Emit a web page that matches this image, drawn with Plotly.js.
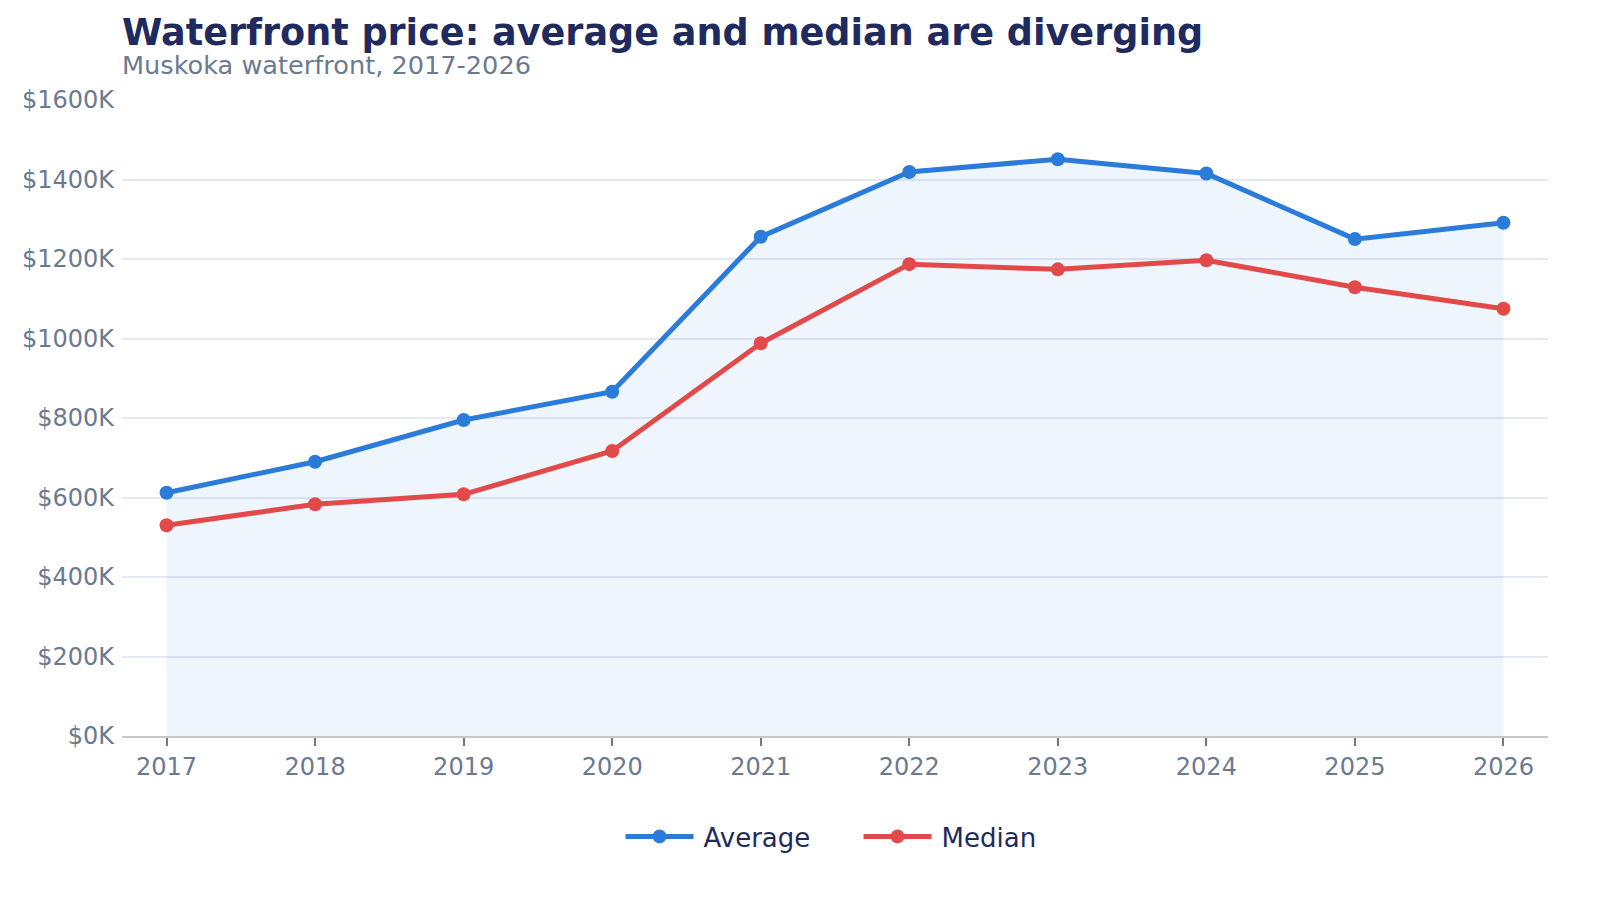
<!DOCTYPE html>
<html>
<head>
<meta charset="utf-8">
<script src="https://cdn.plot.ly/plotly-3.0.1.min.js"></script>
<style>
  html, body { margin: 0; padding: 0; background: #fff; width: 1600px; height: 900px; }
  /* chart is laid out at 800x450 and shown at 2x */
  #chart { width: 800px; height: 450px; transform: scale(2); transform-origin: 0 0; }
</style>
</head>
<body>
<div id="chart"></div>
<script>
// years and prices in $K
const years = [2017, 2018, 2019, 2020, 2021, 2022, 2023, 2024, 2025, 2026];
const averagePrice = [612, 690, 795, 866, 1256, 1419, 1451, 1415, 1250, 1291];
const medianPrice = [530, 583, 608, 717, 988, 1187, 1174, 1197, 1129, 1075];
const yTicks = [0, 200, 400, 600, 800, 1000, 1200, 1400, 1600];

function drawChart() {

    // shaded area under the average, kept out of the legend
    let averageArea = {
        x: years,
        y: averagePrice,
        type: 'scatter',
        mode: 'none',
        fill: 'tozeroy',
        fillcolor: 'rgba(43,123,218,0.08)',
        showlegend: false
    };

    let average = {
        x: years,
        y: averagePrice,
        name: 'Average',
        type: 'scatter',
        mode: 'lines+markers',
        line: { color: '#2b7bda', width: 2.5 },
        marker: { color: '#2b7bda', size: 7 }
    };

    let median = {
        x: years,
        y: medianPrice,
        name: 'Median',
        type: 'scatter',
        mode: 'lines+markers',
        line: { color: '#e24a4a', width: 2.5 },
        marker: { color: '#e24a4a', size: 7 }
    };

    let layout = {
        width: 800,
        height: 450,
        margin: { l: 61, r: 26, t: 49.5, b: 81.5 },
        paper_bgcolor: '#ffffff',
        plot_bgcolor: '#ffffff',
        font: { family: 'DejaVu Sans, sans-serif', color: '#6b7a90' },
        hovermode: false,
        title: {
            text: '<b>Waterfront price: average and median are diverging</b>',
            font: { size: 18.3, color: '#1f2a5e' },
            x: 0, xref: 'paper', xanchor: 'left',
            y: 0.964, yref: 'container', yanchor: 'middle'
        },
        annotations: [{
            text: 'Muskoka waterfront, 2017-2026',
            xref: 'paper', yref: 'paper',
            x: 0, y: 1.055, xanchor: 'left', yanchor: 'middle',
            xshift: -2,
            showarrow: false,
            font: { size: 12.8, color: '#6b7a90' }
        }],
        xaxis: {
            range: [2016.7, 2026.3],
            tickvals: years,
            ticktext: years.map(String),
            showgrid: false,
            zeroline: false,
            showline: true,
            linecolor: '#c8c8c8',
            linewidth: 1,
            ticks: 'outside',
            ticklen: 4,
            tickcolor: '#6b7a90',
            tickfont: { size: 12, color: '#6b7a90' }
        },
        yaxis: {
            range: [0, 1600],
            tickvals: yTicks,
            ticktext: yTicks.map(v => '$' + v + 'K'),
            showgrid: true,
            gridcolor: '#e6e9f2',
            gridwidth: 1,
            zeroline: false,
            showline: false,
            ticks: '',
            ticklabelstandoff: 3,
            tickfont: { size: 12, color: '#6b7a90' }
        },
        showlegend: true,
        legend: {
            orientation: 'h',
            x: 0.513, xanchor: 'center',
            y: -0.158, yanchor: 'middle',
            itemwidth: 34,
            entrywidth: 70,
            font: { size: 13, color: '#1f2a5e' }
        }
    };

    Plotly.newPlot('chart', [averageArea, average, median], layout, { displayModeBar: false, staticPlot: true });
}

drawChart();
</script>
</body>
</html>
